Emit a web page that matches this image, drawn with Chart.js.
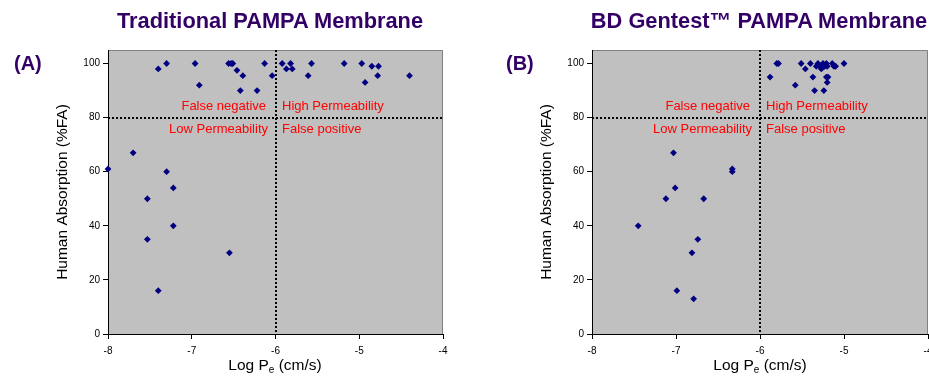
<!DOCTYPE html>
<html>
<head>
<meta charset="utf-8">
<title>PAMPA Membrane</title>
<script src="https://cdn.jsdelivr.net/npm/chart.js@4.4.0/dist/chart.umd.min.js"></script>
<style>
  body { margin: 0; width: 929px; height: 381px; overflow: hidden; background: #fff; position: relative;
         font-family: "Liberation Sans", Arial, sans-serif; }
  .panel { position: absolute; top: 0; height: 381px; }
  .title { position: absolute; top: 9px; font-size: 21.8px; line-height: 24px; font-weight: bold; color: #330066;
           white-space: nowrap; transform: translateX(-50%); }
  .tag { position: absolute; top: 51px; font-size: 20px; line-height: 24px; font-weight: bold; color: #330066; }
  .xtitle { position: absolute; top: 356px; font-size: 15.5px; line-height: 18px; color: #000;
            white-space: nowrap; transform: translateX(-50%); }
  .xtitle sub { font-size: 10px; vertical-align: -3px; line-height: 0; }
</style>
</head>
<body>

<div class="panel" style="left:0;width:465px"><canvas id="chart-a" width="465" height="381"></canvas></div>
<div class="panel" style="left:480px;width:470px"><canvas id="chart-b" width="470" height="381"></canvas></div>

<div class="title" style="left:270px">Traditional PAMPA Membrane</div>
<div class="title" style="left:759px">BD Gentest™ PAMPA Membrane</div>
<div class="tag" style="left:14px">(A)</div>
<div class="tag" style="left:506px">(B)</div>
<div class="xtitle" style="left:275px">Log P<sub>e</sub> (cm/s)</div>
<div class="xtitle" style="left:760px">Log P<sub>e</sub> (cm/s)</div>

<script>
// ===== DATOS =====
const xTickValues = [-8, -7, -6, -5, -4];
const yTickValues = [0, 20, 40, 60, 80, 100];

// (A) Traditional PAMPA
const tradLogPe = [
  -7.40, -7.30, -6.96, -6.91, -6.56, -6.53, -6.51, -6.46, -6.39, -6.42, -6.22, -6.13, -6.04,
  -5.92, -5.87, -5.82, -5.80, -5.57, -5.61, -5.18, -4.97, -4.93, -4.85, -4.77, -4.78, -4.40,
  -8.00, -7.70, -7.30, -7.22, -7.53, -7.22, -7.53, -6.55, -7.40
];
const tradFA = [
  98, 100, 100, 92, 100, 100, 100, 97.5, 95.5, 90, 90, 100, 95.5,
  100, 98, 100, 98, 100, 95.5, 100, 100, 93, 99, 99, 95.5, 95.5,
  61, 67, 60, 54, 50, 40, 35, 30, 16
];

// (B) BD Gentest PAMPA
const gentestLogPe = [
  -5.80, -5.78, -5.88, -5.58, -5.51, -5.46, -5.40, -5.37, -5.35, -5.33, -5.31, -5.29, -5.27,
  -5.25, -5.23, -5.21, -5.20, -5.24, -5.21, -5.19, -5.20, -5.14, -5.12, -5.10, -5.00,
  -7.03, -7.01, -7.12, -6.67, -7.45, -6.74, -6.81, -6.99, -6.79, -6.33, -6.33
];
const gentestFA = [
  100, 100, 95, 92, 100, 98, 100, 95, 90, 99, 100, 99, 98,
  100, 99, 100, 99, 90, 95, 95, 93, 100, 99, 99, 100,
  67, 54, 50, 50, 40, 35, 30, 16, 13, 61, 60
];

const cutX = -6;   // limite de permeabilidad
const cutY = 80;   // limite de absorcion

// ===== ESTILO =====
const fontFamily = '"Liberation Sans", Arial, sans-serif';
const markerColor = '#000080';
const plotFill = '#c0c0c0';
const labelRed = '#ff0000';

// fondo gris, lineas punteadas y textos de cuadrantes
const quadrantPlugin = {
    id: 'quadrants',
    beforeDraw(chart) {
        const { ctx, chartArea: a } = chart;
        ctx.save();
        ctx.fillStyle = plotFill;
        ctx.fillRect(a.left, a.top, a.right - a.left, a.bottom - a.top);
        ctx.strokeStyle = '#808080';
        ctx.lineWidth = 1;
        ctx.beginPath();
        ctx.moveTo(a.left, a.top + 0.5);
        ctx.lineTo(a.right - 0.5, a.top + 0.5);
        ctx.lineTo(a.right - 0.5, a.bottom);
        ctx.stroke();
        ctx.restore();
    },
    beforeDatasetsDraw(chart) {
        const { ctx, chartArea: a, scales: { x, y } } = chart;
        const px = Math.round(x.getPixelForValue(cutX));
        const py = Math.round(y.getPixelForValue(cutY));
        ctx.save();
        ctx.strokeStyle = '#000';
        ctx.lineWidth = 2;
        ctx.setLineDash([2, 2]);
        ctx.beginPath();
        ctx.moveTo(px, a.top);
        ctx.lineTo(px, a.bottom);
        ctx.moveTo(a.left, py);
        ctx.lineTo(a.right, py);
        ctx.stroke();

        ctx.setLineDash([]);
        ctx.fillStyle = labelRed;
        ctx.font = '13px ' + fontFamily;
        ctx.textBaseline = 'middle';
        const yHigh = y.getPixelForValue(84.2);
        const yLow = y.getPixelForValue(75.8);
        ctx.textAlign = 'right';
        ctx.fillText('False negative', px - 10, yHigh);
        ctx.fillText('Low Permeability', px - 8, yLow);
        ctx.textAlign = 'left';
        ctx.fillText('High Permeability', px + 6, yHigh);
        ctx.fillText('False positive', px + 6, yLow);
        ctx.restore();
    }
};

function makeChart(canvasId, xs, ys, yAxisWidth, yTitlePad) {
    const points = xs.map((v, i) => ({ x: v, y: ys[i] }));
    const tickFont = { family: fontFamily, size: 10 };
    return new Chart(document.getElementById(canvasId), {
        type: 'scatter',
        data: {
            datasets: [{
                data: points,
                pointStyle: 'rectRot',
                pointRadius: 3.4,
                pointHoverRadius: 3.4,
                backgroundColor: markerColor,
                borderWidth: 0,
                clip: false
            }]
        },
        options: {
            responsive: false,
            animation: false,
            events: [],
            layout: { padding: { top: 50, right: 22, bottom: 0, left: 0 } },
            plugins: { legend: { display: false }, tooltip: { enabled: false } },
            scales: {
                x: {
                    type: 'linear',
                    min: -8,
                    max: -4,
                    afterBuildTicks: s => { s.ticks = xTickValues.map(v => ({ value: v })); },
                    afterFit: s => { s.height = 47; },
                    grid: { drawOnChartArea: false, drawTicks: true, tickLength: 5, color: '#000' },
                    border: { color: '#000', width: 1 },
                    ticks: { font: tickFont, color: '#000', padding: 6, maxRotation: 0 }
                },
                y: {
                    type: 'linear',
                    min: 0,
                    max: 105,
                    afterBuildTicks: s => { s.ticks = yTickValues.map(v => ({ value: v })); },
                    afterFit: s => { s.width = yAxisWidth; },
                    grid: { drawOnChartArea: false, drawTicks: true, tickLength: 5, color: '#000' },
                    border: { color: '#000', width: 1 },
                    ticks: { font: tickFont, color: '#000', padding: 3 },
                    title: {
                        display: true,
                        text: 'Human Absorption (%FA)',
                        color: '#000',
                        font: { family: fontFamily, size: 15.5 },
                        padding: { top: yTitlePad, bottom: 0 }
                    }
                }
            }
        },
        plugins: [quadrantPlugin]
    });
}

makeChart('chart-a', tradLogPe, tradFA, 108, 53);
makeChart('chart-b', gentestLogPe, gentestFA, 112, 57);
</script>
</body>
</html>
